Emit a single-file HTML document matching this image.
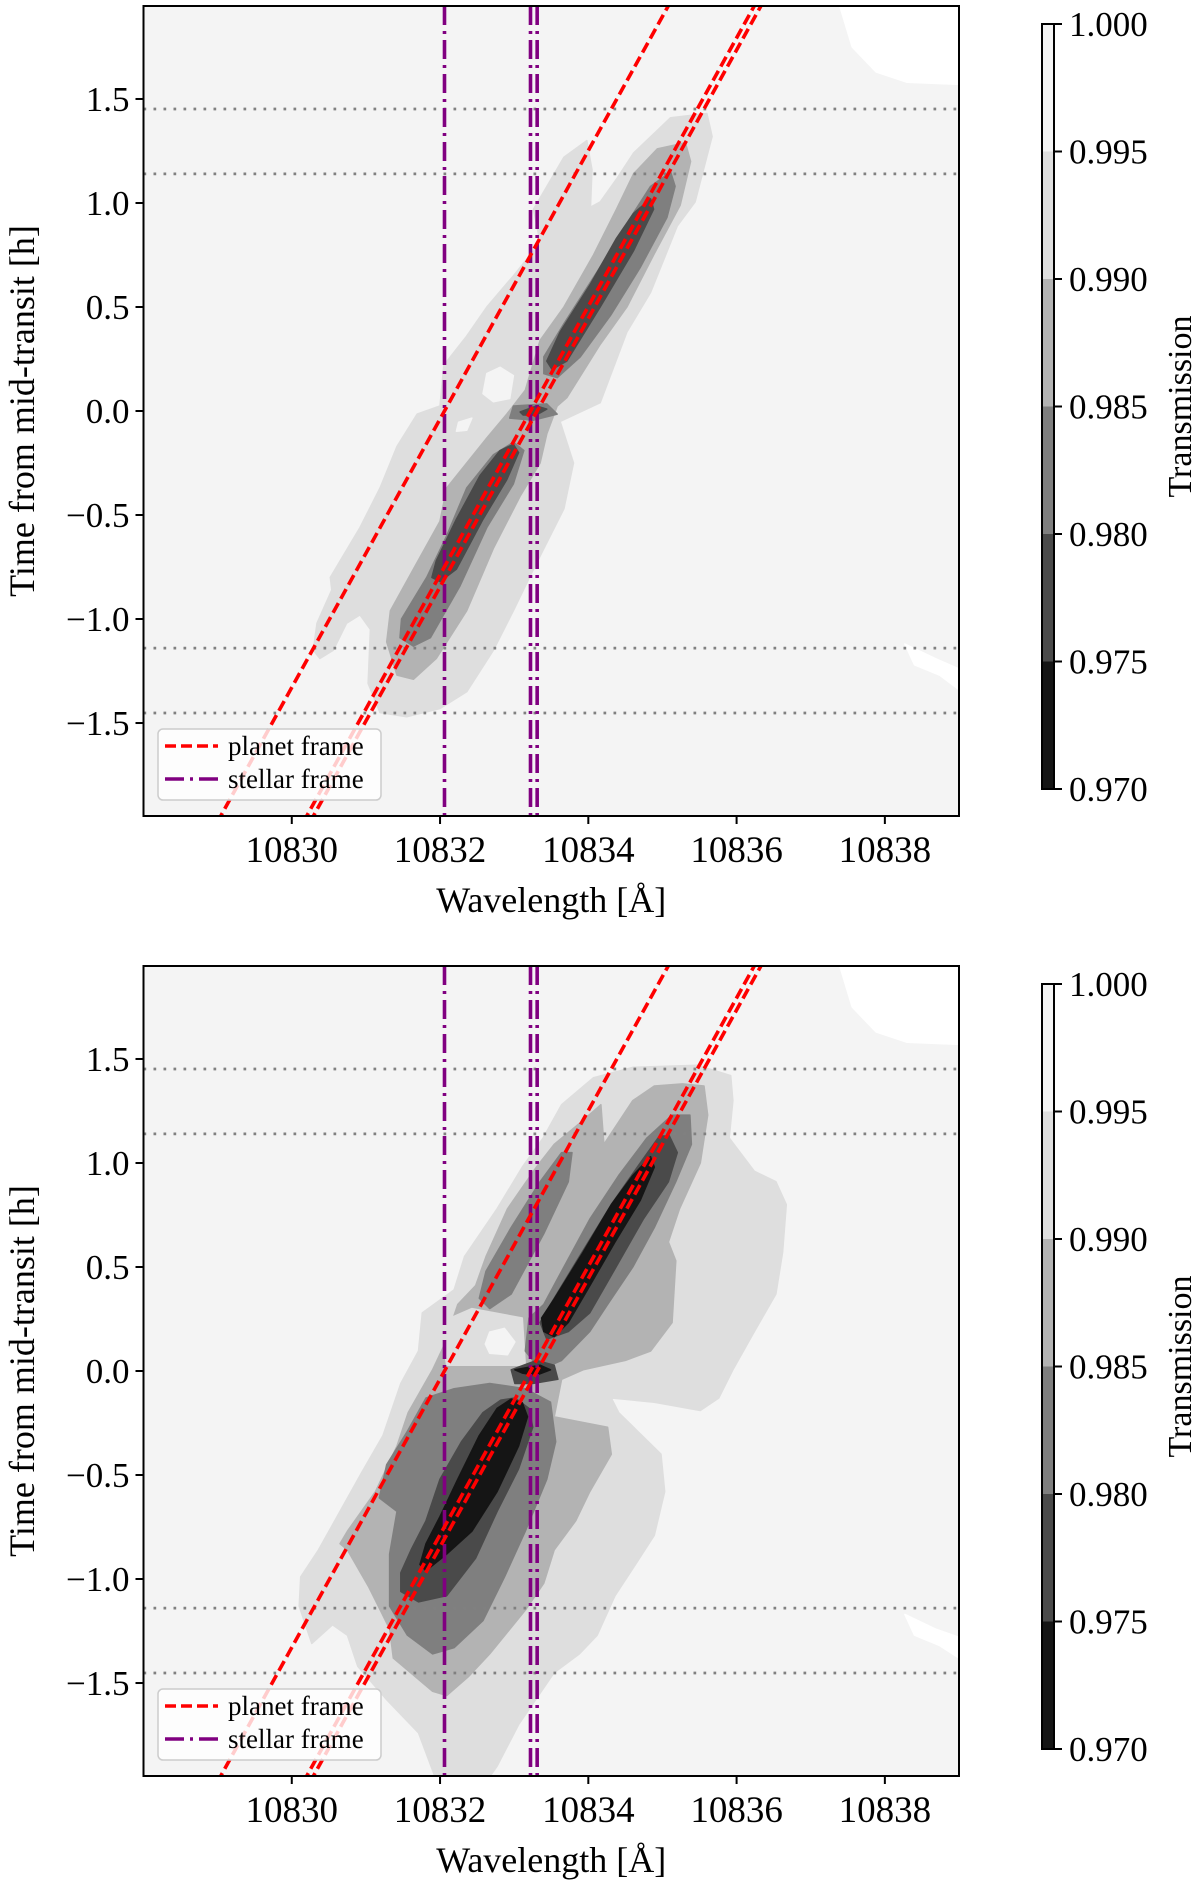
<!DOCTYPE html>
<html><head><meta charset="utf-8"><style>
html,body{margin:0;padding:0;background:#fff;}
svg{display:block;}
text{font-family:"Liberation Serif","DejaVu Serif",serif;fill:#000;}
</style></head>
<body>
<svg id="fig" width="1200" height="1891" viewBox="0 0 1200 1891" xmlns="http://www.w3.org/2000/svg"></svg>
<script>
// ---------- data ----------
const xTicks = [10830, 10832, 10834, 10836, 10838];
const yTicks = [-1.5, -1.0, -0.5, 0.0, 0.5, 1.0, 1.5];
const xDomain = [10828, 10839];
const yDomain = [-1.947, 1.947];
const cbLevels = [0.970, 0.975, 0.980, 0.985, 0.990, 0.995, 1.000];
const cbColors = ["#151515", "#4a4a4a", "#7f7f7f", "#b3b3b3", "#dedede", "#f4f4f4"];
const contactTimes = [-1.452, -1.14, 1.14, 1.452];
const stellarLines = [10832.06, 10833.22, 10833.31];
const planetLines = [10832.06, 10833.22, 10833.31];
const planetSlope = 1.55; // Å per hour

// Top panel contour polygons [wavelength, time]
const topWhiteA = [[10837.39,1.95],[10837.56,1.75],[10837.88,1.63],[10838.3,1.58],[10839,1.57],[10839,1.95]];
const topWhiteB = [[10838.27,-1.12],[10838.68,-1.19],[10839,-1.24],[10839,-1.34],[10838.74,-1.27],[10838.4,-1.22]];
const topL2 = [[10835.60,1.43],[10835.67,1.32],[10835.44,1.005],[10835.20,0.89],[10834.84,0.57],[10834.52,0.38],[10834.16,0.04],[10833.62,-0.05],[10833.80,-0.25],[10833.67,-0.47],[10833.26,-0.76],[10832.99,-0.96],[10832.72,-1.15],[10832.36,-1.35],[10832.00,-1.43],[10831.55,-1.47],[10831.19,-1.45],[10831.03,-1.31],[10831.06,-1.05],[10830.92,-0.98],[10830.74,-1.02],[10830.56,-1.15],[10830.38,-1.19],[10830.29,-1.15],[10830.34,-1.02],[10830.54,-0.86],[10830.52,-0.80],[10830.92,-0.56],[10831.19,-0.37],[10831.42,-0.17],[10831.69,-0.015],[10832.00,0.024],[10832.05,0.22],[10832.36,0.36],[10832.63,0.50],[10832.99,0.65],[10833.35,0.81],[10833.26,0.97],[10833.67,1.22],[10833.98,1.30],[10834.05,1.16],[10834.03,0.98],[10834.16,1.005],[10834.39,1.12],[10834.61,1.24],[10835.11,1.41]];
const topHoleA = [[10832.63,0.18],[10832.81,0.21],[10832.99,0.17],[10832.94,0.06],[10832.72,0.044],[10832.58,0.083]];
const topHoleB = [[10832.25,-0.054],[10832.43,-0.034],[10832.36,-0.093],[10832.22,-0.097]];
const topL3 = [[10835.31,1.29],[10835.38,1.20],[10835.24,0.99],[10834.88,0.75],[10834.52,0.50],[10834.16,0.32],[10833.71,0.064],[10833.58,0.024],[10833.44,-0.11],[10833.35,-0.25],[10833.08,-0.41],[10832.72,-0.66],[10832.36,-0.96],[10831.95,-1.19],[10831.64,-1.29],[10831.42,-1.27],[10831.28,-1.11],[10831.33,-0.96],[10831.64,-0.76],[10832.00,-0.53],[10832.09,-0.37],[10832.63,-0.13],[10832.90,-0.015],[10833.15,0.10],[10833.35,0.34],[10833.67,0.50],[10834.07,0.75],[10834.38,0.97],[10834.61,1.14],[10834.93,1.26]];
const topL4a = [[10835.11,1.15],[10835.17,1.08],[10835.06,0.93],[10834.70,0.69],[10834.30,0.46],[10833.89,0.26],[10833.58,0.16],[10833.40,0.18],[10833.40,0.26],[10833.67,0.42],[10834.12,0.67],[10834.57,0.93],[10834.84,1.08]];
const topL4b = [[10832.99,0.024],[10833.44,0.034],[10833.58,-0.015],[10833.26,-0.044],[10832.94,-0.034]];
const topL4c = [[10832.99,-0.15],[10833.13,-0.19],[10832.99,-0.35],[10832.63,-0.56],[10832.27,-0.84],[10831.87,-1.09],[10831.64,-1.13],[10831.46,-1.09],[10831.48,-1.00],[10831.82,-0.80],[10832.09,-0.60],[10832.36,-0.37],[10832.72,-0.21]];
const topL5a = [[10834.84,1.02],[10834.88,0.97],[10834.61,0.77],[10834.16,0.50],[10833.71,0.24],[10833.51,0.20],[10833.44,0.24],[10833.62,0.38],[10834.03,0.61],[10834.38,0.83],[10834.61,0.95]];
const topL5b = [[10833.08,-0.005],[10833.30,0.024],[10833.44,0.009],[10833.30,-0.019],[10833.12,-0.019]];
const topL5c = [[10832.99,-0.16],[10833.06,-0.20],[10832.90,-0.33],[10832.58,-0.52],[10832.22,-0.76],[10832.00,-0.82],[10831.89,-0.80],[10831.95,-0.72],[10832.22,-0.52],[10832.54,-0.31],[10832.81,-0.19]];

// Bottom panel contour polygons
const botWhiteA = [[10837.39,1.95],[10837.56,1.75],[10837.88,1.63],[10838.3,1.58],[10839,1.57],[10839,1.95]];
const botWhiteB = [[10838.27,-1.17],[10838.68,-1.24],[10839,-1.28],[10839,-1.38],[10838.74,-1.32],[10838.4,-1.27]];
const botL2 = [[10835.47,1.47],[10835.92,1.42],[10835.95,1.30],[10835.90,1.12],[10836.24,0.96],[10836.53,0.91],[10836.67,0.80],[10836.62,0.57],[10836.53,0.37],[10836.24,0.19],[10835.95,0.006],[10835.76,-0.13],[10835.51,-0.19],[10834.89,-0.15],[10834.31,-0.13],[10834.41,-0.20],[10834.98,-0.40],[10835.03,-0.58],[10834.89,-0.79],[10834.60,-0.95],[10834.36,-1.08],[10834.12,-1.27],[10833.88,-1.36],[10833.54,-1.45],[10833.06,-1.70],[10832.77,-1.90],[10832.67,-1.95],[10831.93,-1.95],[10831.71,-1.74],[10831.28,-1.58],[10830.89,-1.42],[10830.75,-1.27],[10830.55,-1.22],[10830.27,-1.31],[10830.10,-1.13],[10830.12,-0.99],[10830.36,-0.86],[10830.65,-0.675],[10830.94,-0.49],[10831.23,-0.31],[10831.47,-0.06],[10831.71,0.096],[10831.76,0.28],[10832.19,0.39],[10832.33,0.55],[10832.77,0.78],[10833.11,0.98],[10833.39,1.12],[10833.64,1.28],[10834.07,1.41],[10834.60,1.46]];
const botL3 = [[10835.27,1.38],[10835.56,1.37],[10835.61,1.23],[10835.51,1.00],[10835.23,0.78],[10835.08,0.62],[10835.18,0.53],[10835.13,0.233],[10834.84,0.096],[10834.50,0.051],[10833.93,0.006],[10833.64,-0.04],[10833.54,-0.22],[10834.26,-0.27],[10834.31,-0.40],[10834.02,-0.58],[10833.83,-0.72],[10833.54,-0.86],[10833.40,-1.02],[10833.15,-1.15],[10832.67,-1.36],[10832.38,-1.47],[10832.09,-1.56],[10831.90,-1.54],[10831.37,-1.38],[10831.32,-1.24],[10831.04,-1.04],[10830.75,-0.86],[10830.65,-0.83],[10830.75,-0.77],[10831.13,-0.58],[10831.42,-0.36],[10831.57,-0.20],[10831.90,0.006],[10832.05,0.12],[10832.24,0.32],[10832.48,0.41],[10832.62,0.55],[10832.91,0.78],[10833.30,0.98],[10833.54,1.09],[10833.88,1.19],[10834.17,1.28],[10834.21,1.09],[10834.60,1.30],[10834.89,1.37]];
const botL2patch = [[10832.00,0.233],[10832.43,0.30],[10833.11,0.255],[10833.15,0.028],[10832.62,0.028],[10832.09,0.028]];
const botHole = [[10832.67,0.187],[10832.87,0.205],[10833.01,0.14],[10832.91,0.078],[10832.67,0.085],[10832.61,0.13]];
const botL4a = [[10835.37,1.23],[10835.39,1.09],[10835.18,0.91],[10834.89,0.69],[10834.60,0.50],[10834.26,0.32],[10834.02,0.19],[10833.64,0.051],[10833.35,0.006],[10833.15,0.096],[10833.20,0.255],[10833.40,0.32],[10833.64,0.48],[10834.02,0.73],[10834.41,0.94],[10834.79,1.12],[10835.13,1.23]];
const botL4b = [[10833.78,1.05],[10833.73,0.91],[10833.40,0.66],[10832.96,0.37],[10832.67,0.30],[10832.53,0.35],[10832.62,0.48],[10832.96,0.69],[10833.35,0.91],[10833.64,1.05]];
const botL4c = [[10833.15,-0.085],[10833.49,-0.15],[10833.56,-0.34],[10833.44,-0.52],[10833.15,-0.77],[10832.87,-0.99],[10832.58,-1.20],[10832.19,-1.33],[10831.90,-1.36],[10831.56,-1.27],[10831.32,-1.13],[10831.32,-0.88],[10831.42,-0.675],[10831.18,-0.61],[10831.28,-0.45],[10831.56,-0.29],[10831.81,-0.13],[10832.19,-0.085],[10832.67,-0.06]];
const botL5a = [[10835.08,1.14],[10835.20,1.05],[10835.08,0.91],[10834.74,0.73],[10834.31,0.46],[10834.02,0.28],[10833.73,0.19],[10833.44,0.153],[10833.35,0.233],[10833.49,0.32],[10833.88,0.55],[10834.31,0.80],[10834.70,1.00],[10834.94,1.12]];
const botL5b = [[10832.96,0.006],[10833.30,0.051],[10833.54,0.028],[10833.59,-0.04],[10833.25,-0.06],[10833.01,-0.06]];
const botL5c = [[10833.01,-0.13],[10833.20,-0.18],[10833.25,-0.27],[10833.06,-0.47],[10832.77,-0.675],[10832.48,-0.90],[10832.09,-1.08],[10831.71,-1.11],[10831.47,-1.06],[10831.47,-0.97],[10831.61,-0.86],[10831.81,-0.72],[10832.00,-0.52],[10832.29,-0.34],[10832.58,-0.20],[10832.82,-0.14]];
const botL6a = [[10834.84,1.03],[10834.89,0.98],[10834.70,0.82],[10834.36,0.62],[10834.02,0.41],[10833.73,0.233],[10833.54,0.165],[10833.40,0.19],[10833.37,0.255],[10833.54,0.346],[10833.93,0.57],[10834.31,0.80],[10834.60,0.94]];
const botL6b = [[10833.01,0.006],[10833.35,0.028],[10833.49,0.006],[10833.30,-0.02],[10833.11,-0.01]];
const botL6c = [[10833.11,-0.153],[10833.18,-0.22],[10833.06,-0.36],[10832.77,-0.58],[10832.43,-0.77],[10832.09,-0.88],[10831.81,-0.96],[10831.73,-0.93],[10831.81,-0.83],[10832.00,-0.70],[10832.24,-0.52],[10832.53,-0.31],[10832.77,-0.18],[10832.96,-0.135]];

// ---------- drawing ----------
const NS = "http://www.w3.org/2000/svg";
const svg = document.getElementById("fig");
function mk(tag, attrs, parent) {
  const e = document.createElementNS(NS, tag);
  for (const k in attrs) e.setAttribute(k, attrs[k]);
  (parent || svg).appendChild(e);
  return e;
}
const AX = {left: 143.5, right: 959, top: 6, bottom: 816};

function drawPanel(off, idx, layers) {
  const top = AX.top + off, bottom = AX.bottom + off;
  const sx = v => AX.left + (v - xDomain[0]) / (xDomain[1] - xDomain[0]) * (AX.right - AX.left);
  const sy = v => bottom - (v - yDomain[0]) / (yDomain[1] - yDomain[0]) * (bottom - top);
  const g = mk("g", {});
  
  
  const cid = "clip" + idx;
  const cp = mk("clipPath", {id: cid}, g);
  mk("rect", {x: AX.left, y: top, width: AX.right - AX.left, height: bottom - top}, cp);
  const plot = mk("g", {"clip-path": "url(#" + cid + ")"}, g);
  const bg = mk("rect", {x: AX.left, y: top, width: AX.right - AX.left, height: bottom - top, fill: "#f4f4f4"}, plot);
  
  
  layers.forEach(L => {
    const p = mk("polygon", {points: L.pts.map(q => sx(q[0]).toFixed(1) + "," + sy(q[1]).toFixed(1)).join(" "), fill: L.fill, stroke: L.fill, "stroke-width": 1.5, "stroke-linejoin": "round"}, plot);
    
    
  });
  contactTimes.forEach(t => {
    const l = mk("line", {x1: AX.left, x2: AX.right, y1: sy(t), y2: sy(t), stroke: "#808080", "stroke-width": 2.7, "stroke-dasharray": "2.7 7.3"}, plot);
    
    
  });
  stellarLines.forEach(w => {
    const l = mk("line", {x1: sx(w), x2: sx(w), y1: top, y2: bottom, stroke: "#800080", "stroke-width": 3.6, "stroke-dasharray": "19 6 3 6"}, plot);
    
    
  });
  planetLines.forEach(w => {
    const t0 = yDomain[0] - 0.1, t1 = yDomain[1] + 0.1;
    const l = mk("line", {x1: sx(w + planetSlope * t0), y1: sy(t0), x2: sx(w + planetSlope * t1), y2: sy(t1), stroke: "#ff0000", "stroke-width": 3.6, "stroke-dasharray": "11 5"}, plot);
    
    
  });
  const lg = mk("g", {}, g);
  
  
  mk("rect", {x: 158, y: 729 + off, width: 223, height: 71, rx: 5, fill: "#ffffff", "fill-opacity": 0.8, stroke: "#cccccc", "stroke-width": 1.5}, lg);
  const e1 = mk("line", {x1: 165, x2: 218, y1: 746 + off, y2: 746 + off, stroke: "#ff0000", "stroke-width": 3.6, "stroke-dasharray": "11 5"}, lg);
  
  
  const t1 = mk("text", {x: 228, y: 755 + off, "font-size": 27}, lg); t1.textContent = "planet frame";
  
  
  const e2 = mk("line", {x1: 165, x2: 218, y1: 779 + off, y2: 779 + off, stroke: "#800080", "stroke-width": 3.6, "stroke-dasharray": "19 6 3 6"}, lg);
  
  
  const t2 = mk("text", {x: 228, y: 788 + off, "font-size": 27}, lg); t2.textContent = "stellar frame";
  
  
  const fr = mk("rect", {x: AX.left, y: top, width: AX.right - AX.left, height: bottom - top, fill: "none", stroke: "#000", "stroke-width": 2}, g);
  
  
  xTicks.forEach(v => {
    mk("line", {x1: sx(v), x2: sx(v), y1: bottom, y2: bottom + 8, stroke: "#000", "stroke-width": 2}, g);
    const t = mk("text", {x: sx(v), y: bottom + 46, "font-size": 37, "text-anchor": "middle"}, g);
    t.textContent = String(v);
    
    
  });
  yTicks.forEach(v => {
    mk("line", {x1: AX.left - 8, x2: AX.left, y1: sy(v), y2: sy(v), stroke: "#000", "stroke-width": 2}, g);
    const t = mk("text", {x: AX.left - 14, y: sy(v) + 12, "font-size": 35, "text-anchor": "end"}, g);
    t.textContent = (v < 0 ? "\u2212" : "") + Math.abs(v).toFixed(1);
    
    
  });
  const xl = mk("text", {x: (AX.left + AX.right) / 2, y: 912 + off, "font-size": 36, "text-anchor": "middle"}, g);
  xl.textContent = "Wavelength [\u00C5]";
  
  
  const yl = mk("text", {x: 0, y: 0, "font-size": 36, "text-anchor": "middle", transform: "translate(34," + ((top + bottom) / 2) + ") rotate(-90)"}, g);
  yl.textContent = "Time from mid-transit [h]";
  
  
  const cb = mk("g", {}, g);
  
  
  const cTop = 24 + off, cBot = 789 + off, cx0 = 1042, cw = 12;
  const cy = v => cBot - (v - cbLevels[0]) / (cbLevels[cbLevels.length - 1] - cbLevels[0]) * (cBot - cTop);
  for (let i = 0; i < cbColors.length; i++) {
    const r = mk("rect", {x: cx0, y: cy(cbLevels[i + 1]), width: cw, height: cy(cbLevels[i]) - cy(cbLevels[i + 1]), fill: cbColors[i]}, cb);
    
    
  }
  mk("rect", {x: cx0, y: cTop, width: cw, height: cBot - cTop, fill: "none", stroke: "#000", "stroke-width": 2}, cb);
  cbLevels.forEach(v => {
    mk("line", {x1: cx0 + cw, x2: cx0 + cw + 8, y1: cy(v), y2: cy(v), stroke: "#000", "stroke-width": 2}, cb);
    const t = mk("text", {x: 1069, y: cy(v) + 12, "font-size": 35}, cb);
    t.textContent = v.toFixed(3);
    
    
  });
  const ct = mk("text", {x: 0, y: 0, "font-size": 34, "text-anchor": "middle", transform: "translate(1191," + ((cTop + cBot) / 2) + ") rotate(-90)"}, cb);
  ct.textContent = "Transmission";
  
  
}

drawPanel(0, 1, [
  {name: "white-a", pts: topWhiteA, fill: "#ffffff"},
  {name: "white-b", pts: topWhiteB, fill: "#ffffff"},
  {name: "l2", pts: topL2, fill: cbColors[4]},
  {name: "hole-a", pts: topHoleA, fill: cbColors[5]},
  {name: "hole-b", pts: topHoleB, fill: cbColors[5]},
  {name: "l3", pts: topL3, fill: cbColors[3]},
  {name: "l4a", pts: topL4a, fill: cbColors[2]},
  {name: "l4b", pts: topL4b, fill: cbColors[2]},
  {name: "l4c", pts: topL4c, fill: cbColors[2]},
  {name: "l5a", pts: topL5a, fill: cbColors[1]},
  {name: "l5b", pts: topL5b, fill: cbColors[1]},
  {name: "l5c", pts: topL5c, fill: cbColors[1]}
]);
drawPanel(960, 2, [
  {name: "white-a", pts: botWhiteA, fill: "#ffffff"},
  {name: "white-b", pts: botWhiteB, fill: "#ffffff"},
  {name: "l2", pts: botL2, fill: cbColors[4]},
  {name: "l3", pts: botL3, fill: cbColors[3]},
  {name: "l2-patch", pts: botL2patch, fill: cbColors[4]},
  {name: "hole", pts: botHole, fill: cbColors[5]},
  {name: "l4a", pts: botL4a, fill: cbColors[2]},
  {name: "l4b", pts: botL4b, fill: cbColors[2]},
  {name: "l4c", pts: botL4c, fill: cbColors[2]},
  {name: "l5a", pts: botL5a, fill: cbColors[1]},
  {name: "l5b", pts: botL5b, fill: cbColors[1]},
  {name: "l5c", pts: botL5c, fill: cbColors[1]},
  {name: "l6a", pts: botL6a, fill: cbColors[0]},
  {name: "l6b", pts: botL6b, fill: cbColors[0]},
  {name: "l6c", pts: botL6c, fill: cbColors[0]}
]);
</script>
</body></html>
